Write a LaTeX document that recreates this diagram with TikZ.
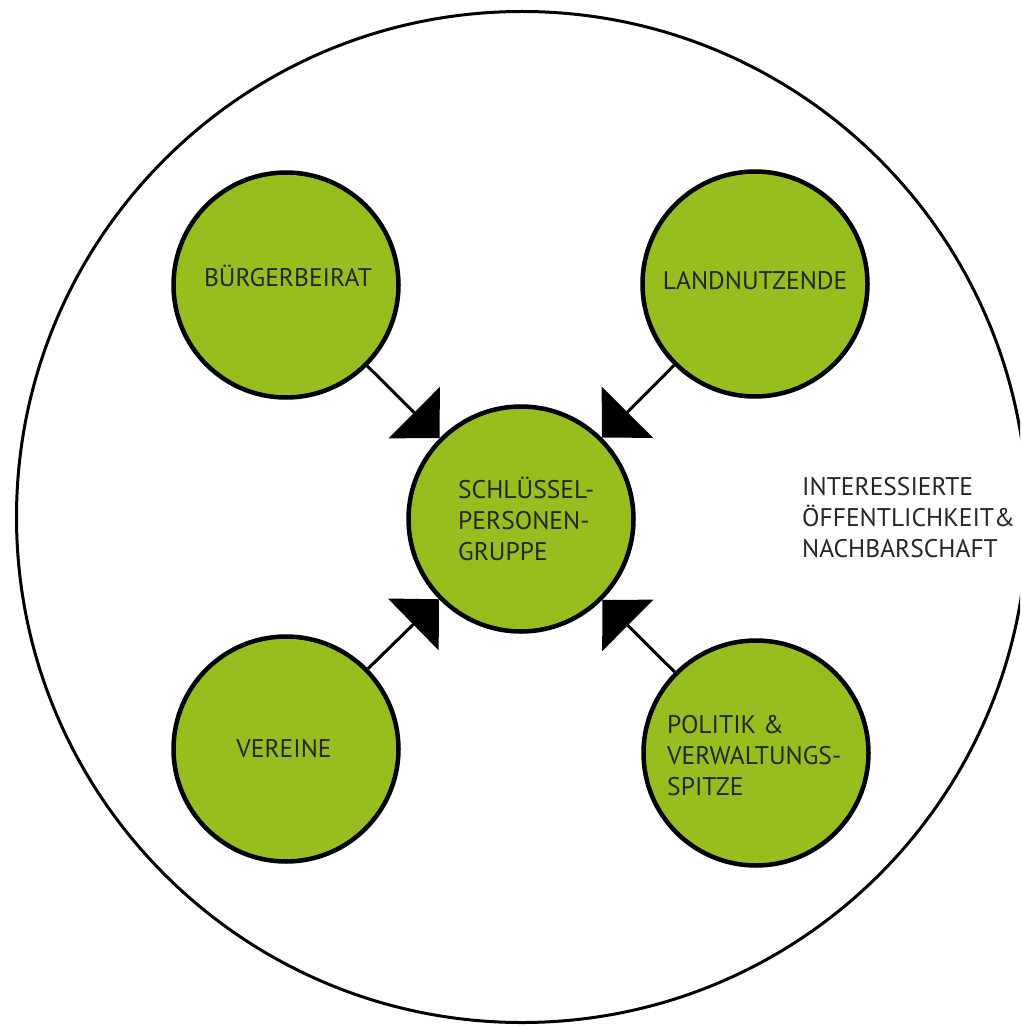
\documentclass[tikz,border=0pt]{standalone}
\usepackage{fontspec}
\setmainfont{PT Sans}
\usetikzlibrary{arrows.meta}
\definecolor{leaf}{RGB}{150,190,30}
\definecolor{ink}{RGB}{38,38,38}
\begin{document}
\begin{tikzpicture}[x=1pt,y=-1pt,
  group/.style={circle,draw=black,line width=4.5pt,fill=leaf,minimum size=225pt,inner sep=0pt},
  label/.style={text=ink,font=\fontsize{25.5}{31}\selectfont,inner sep=0pt},
  feed/.style={line width=3pt,-{Triangle[length=36pt,width=72pt]}}]
\useasboundingbox (0,0) rectangle (1020,1027);
\clip (0,0) rectangle (1020,1027);
% surrounding public
\draw[line width=3pt] (522,517) circle[radius=505.5];
% groups
\node[group] (core) at (521,519) {};
\node[group] (board) at (286,285) {};
\node[group] (land) at (755,284) {};
\node[group] (clubs) at (286,749) {};
\node[group] (pol) at (756,753) {};
% connectors
\draw[feed] (board) -- (core);
\draw[feed] (land) -- (core);
\draw[feed] (clubs) -- (core);
\draw[feed] (pol) -- (core);
% labels (multi-line blocks are anchored at the baseline of their last line)
\node[label,anchor=base] (tboard) at (288,286) {BÜRGERBEIRAT};
\node[label,anchor=base] (tland) at (755,289) {LANDNUTZENDE};
\node[label,anchor=base] (tclubs) at (284,757) {VEREINE};
\node[label,anchor=base west,align=left] (tcore) at (458,560) {SCHLÜSSEL-\\PERSONEN-\\GRUPPE};
\node[label,anchor=base west,align=left] (tpol) at (667,795) {POLITIK \&\\VERWALTUNGS-\\SPITZE};
\node[label,anchor=base west,align=left] (tpub) at (802,557) {INTERESSIERTE\\ÖFFENTLICHKEIT\&\\NACHBARSCHAFT};
\end{tikzpicture}
\end{document}
